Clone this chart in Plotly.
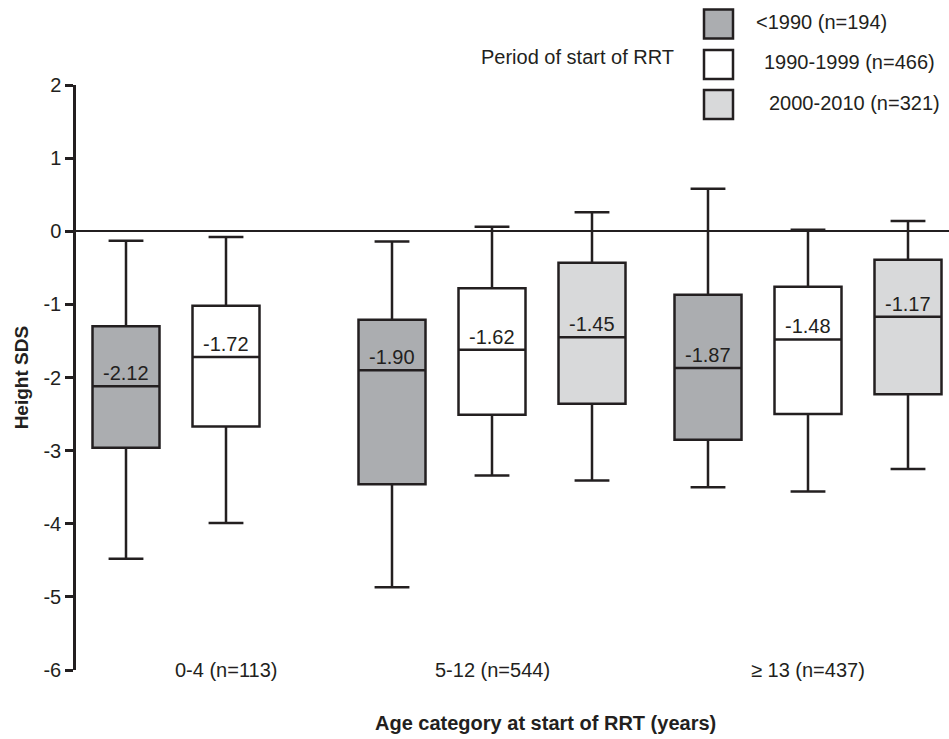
import plotly.graph_objects as go

# ---------------- data ----------------
age_groups = ["0-4 (n=113)", "5-12 (n=544)", "\u2265 13 (n=437)"]
periods = ["<1990 (n=194)", "1990-1999 (n=466)", "2000-2010 (n=321)"]

# one entry per box: (age group index, period index)
box_group = [0, 0, 1, 1, 1, 2, 2, 2]
box_period = [0, 1, 0, 1, 2, 0, 1, 2]
lower_whisker = [-4.48, -3.99, -4.87, -3.34, -3.41, -3.50, -3.56, -3.25]
q1_values = [-2.96, -2.67, -3.46, -2.51, -2.36, -2.85, -2.50, -2.23]
medians = [-2.12, -1.72, -1.90, -1.62, -1.45, -1.87, -1.48, -1.17]
q3_values = [-1.30, -1.02, -1.21, -0.78, -0.43, -0.87, -0.76, -0.39]
upper_whisker = [-0.13, -0.08, -0.14, 0.06, 0.26, 0.58, 0.02, 0.14]

y_ticks = [2, 1, 0, -1, -2, -3, -4, -5, -6]

# ---------------- layout / style ----------------
group_centers = [1.50, 4.16, 7.32]
period_offsets = [-1.0, 0.0, 1.0]
box_width = 0.67
x_range = [0, 8.73]
fills = ["#abadb0", "#ffffff", "#d8d9da"]
ink = "#231f20"
font_family = "Liberation Sans, Arial, sans-serif"
fs = 20

fig = go.Figure()

for i in range(len(medians)):
    g, p = box_group[i], box_period[i]
    xpos = group_centers[g] + period_offsets[p]
    fig.add_trace(go.Box(
        x=[xpos],
        q1=[q1_values[i]], median=[medians[i]], q3=[q3_values[i]],
        lowerfence=[lower_whisker[i]], upperfence=[upper_whisker[i]],
        width=box_width, whiskerwidth=0.52,
        fillcolor=fills[p], line=dict(color=ink, width=2.5),
        boxpoints=False, showlegend=False, hoverinfo="skip",
    ))
    fig.add_annotation(
        x=xpos, y=medians[i], xref="x", yref="y",
        text=f"{medians[i]:.2f}", showarrow=False,
        yanchor="bottom", yshift=0,
        font=dict(size=fs, color=ink, family=font_family),
    )

# category labels placed at bottom of plot
for g, label in enumerate(age_groups):
    fig.add_annotation(
        x=group_centers[g], y=-6, xref="x", yref="y", text=label,
        showarrow=False, yanchor="middle",
        font=dict(size=fs, color=ink, family=font_family),
    )

# axis titles
fig.add_annotation(
    x=0.538, y=-0.09, xref="paper", yref="paper",
    text="<b>Age category at start of RRT (years)</b>", showarrow=False,
    yanchor="middle", font=dict(size=20, color=ink, family=font_family),
)
fig.add_annotation(
    x=-0.062, y=-2, xref="paper", yref="y", text="<b>Height SDS</b>",
    textangle=-90, showarrow=False, xanchor="center", yanchor="middle",
    font=dict(size=19, color=ink, family=font_family),
)

# custom legend
plot_left, plot_w, plot_bottom, plot_h = 76, 873, 670, 585
def px_x(v):
    return (v - plot_left) / plot_w
def px_y(v):
    return (plot_bottom - v) / plot_h

legend_rows = [24, 64.5, 104.5]
legend_text_x = [754, 762, 767]
sq = 29
for p, label in enumerate(periods):
    cy = legend_rows[p]
    fig.add_shape(
        type="rect", xref="paper", yref="paper",
        x0=px_x(704), x1=px_x(704 + sq), y0=px_y(cy + sq / 2), y1=px_y(cy - sq / 2),
        fillcolor=fills[p], line=dict(color=ink, width=2.5),
    )
    fig.add_annotation(
        x=px_x(legend_text_x[p]), y=px_y(cy - 2), xref="paper", yref="paper",
        text=label, showarrow=False, xanchor="left", yanchor="middle",
        font=dict(size=fs, color=ink, family=font_family),
    )
fig.add_annotation(
    x=px_x(479), y=px_y(57), xref="paper", yref="paper",
    text="Period of start of RRT", showarrow=False, xanchor="left", yanchor="middle",
    font=dict(size=fs, color=ink, family=font_family),
)

fig.update_layout(
    width=949, height=739,
    margin=dict(l=76, r=0, t=85, b=69),
    paper_bgcolor="white", plot_bgcolor="white",
    font=dict(family=font_family, color=ink, size=fs),
    xaxis=dict(range=x_range, showgrid=False, zeroline=False, showline=False,
               showticklabels=False, ticks=""),
    yaxis=dict(range=[-6, 2], tickvals=y_ticks, ticktext=[str(v) for v in y_ticks],
               showgrid=False, zeroline=True, zerolinecolor=ink, zerolinewidth=2,
               showline=True, linecolor=ink, linewidth=2.5,
               ticks="outside", ticklen=8, tickwidth=2.5, tickcolor=ink,
               tickfont=dict(size=fs, color=ink, family=font_family)),
)

fig.write_html("out.html", config={"displayModeBar": False},
               post_script="document.body.style.margin='0';")
